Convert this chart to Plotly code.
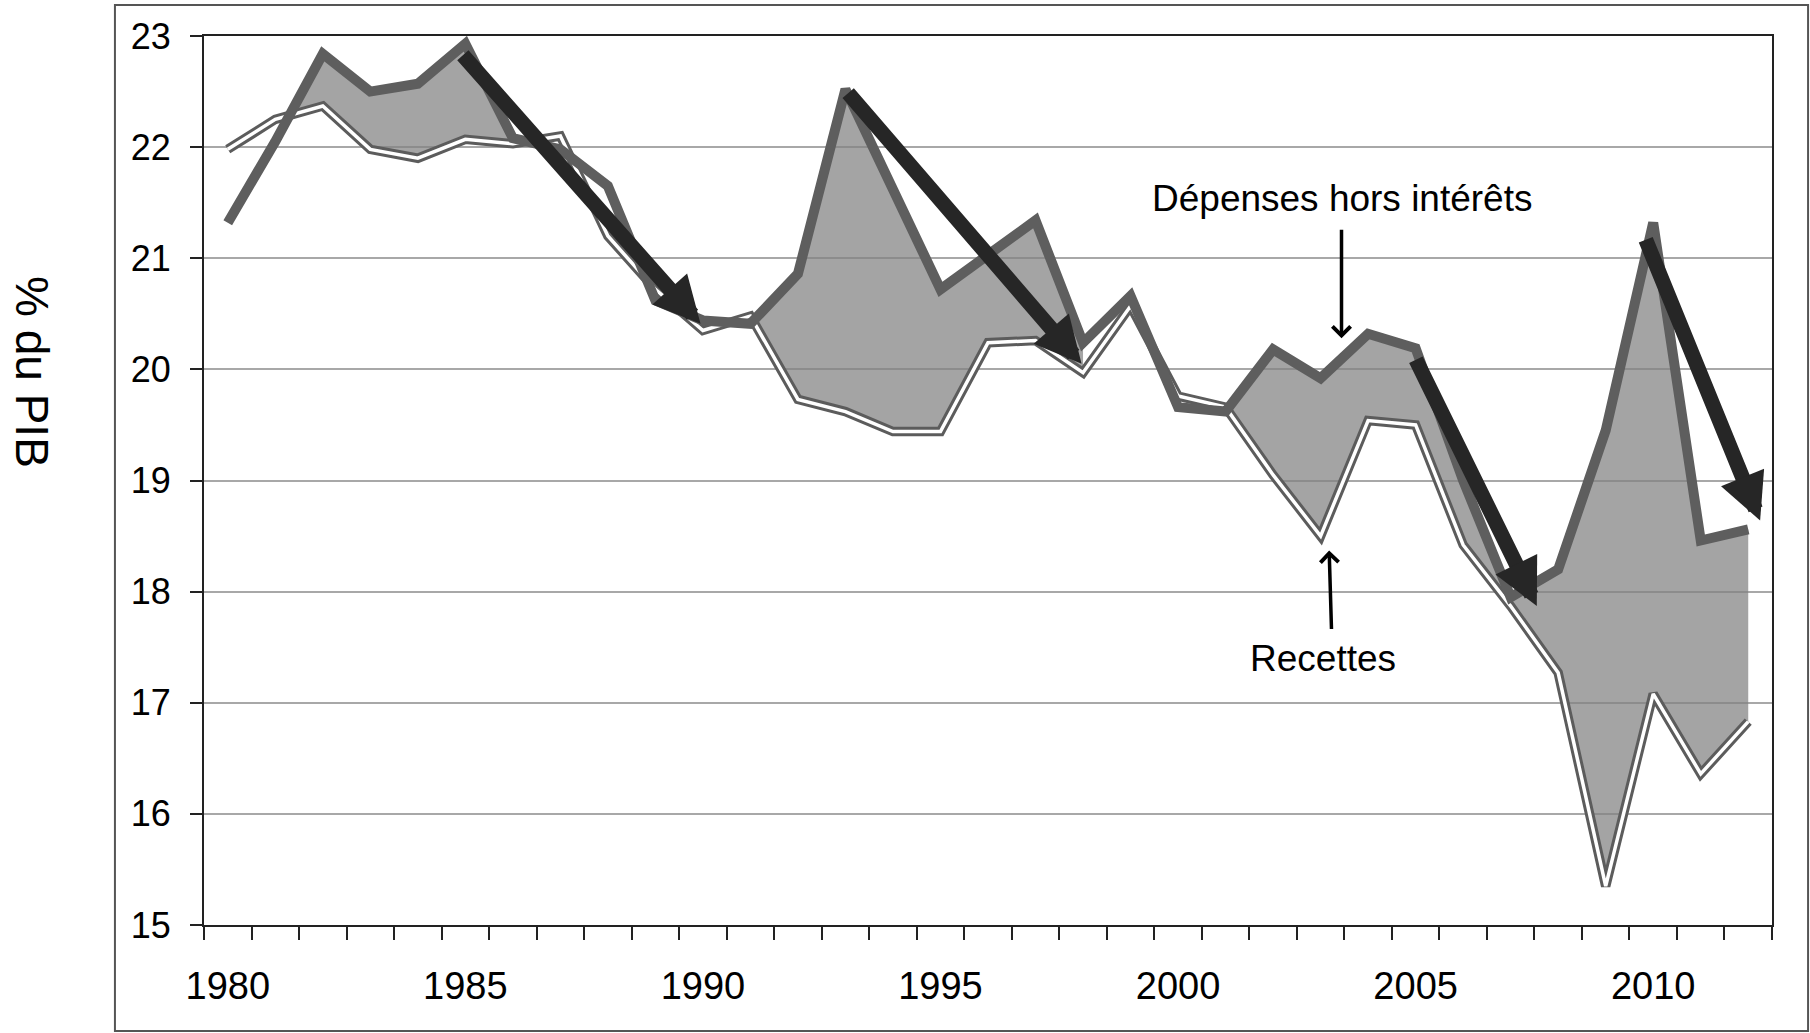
import plotly.graph_objects as go

# ---------------- données (% du PIB) ----------------
annees = list(range(1980, 2013))
depenses = [21.32, 22.05, 22.84, 22.50, 22.57, 22.93, 22.08, 21.98, 21.65, 20.62,
            20.44, 20.41, 20.86, 22.52, 21.62, 20.72, 21.03, 21.34, 20.24, 20.66,
            19.66, 19.62, 20.18, 19.92, 20.32, 20.19, 19.00, 17.95, 18.20, 19.45,
            21.32, 18.46, 18.56]
recettes = [21.98, 22.25, 22.37, 21.98, 21.90, 22.07, 22.03, 22.10, 21.20, 20.72,
            20.35, 20.48, 19.73, 19.62, 19.44, 19.44, 20.24, 20.26, 19.97, 20.57,
            19.76, 19.66, 19.05, 18.50, 19.54, 19.50, 18.42, 17.87, 17.27, 15.35,
            17.08, 16.36, 16.83]
periodes_ombrees = [(1981, 1987), (1991, 1998), (2001, 2012)]
annees_etiquetees = [1980, 1985, 1990, 1995, 2000, 2005, 2010]
y_ticks = [15, 16, 17, 18, 19, 20, 21, 22, 23]
# flèches d'ajustement (année, valeur) : départ -> pointe
fleches = [((1984.92, 22.84), (1989.95, 20.41)),
           ((1993.03, 22.50), (1997.97, 20.05)),
           ((2004.99, 20.10), (2007.55, 17.87)),
           ((2009.83, 21.18), (2012.25, 18.64))]

FONT = "Liberation Sans, Arial, sans-serif"

fig = go.Figure()

# --------- zone grisée entre recettes et dépenses ---------
def bande(a, b):
    xs, lo, hi = [], [], []
    for i, yr in enumerate(annees):
        if yr < a or yr > b:
            continue
        d, r = depenses[i], recettes[i]
        xs.append(yr); lo.append(r); hi.append(max(d, r))
        if yr < b:
            d2, r2 = depenses[i + 1], recettes[i + 1]
            g1, g2 = d - r, d2 - r2
            if g1 * g2 < 0:
                t = g1 / (g1 - g2)
                yc = r + t * (r2 - r)
                xs.append(yr + t); lo.append(yc); hi.append(yc)
    return xs, lo, hi

for a, b in periodes_ombrees:
    xs, lo, hi = bande(a, b)
    fig.add_trace(go.Scatter(x=xs, y=lo, mode="lines", line=dict(width=0),
                             hoverinfo="skip", showlegend=False))
    fig.add_trace(go.Scatter(x=xs, y=hi, mode="lines", line=dict(width=0),
                             fill="tonexty", fillcolor="rgba(130,130,130,0.73)",
                             hoverinfo="skip", showlegend=False))

# --------- courbes ---------
fig.add_trace(go.Scatter(x=annees, y=recettes, mode="lines",
                         line=dict(color="#5c5c5c", width=9.5), showlegend=False))
fig.add_trace(go.Scatter(x=annees, y=recettes, mode="lines",
                         line=dict(color="#ffffff", width=3.5), showlegend=False))
fig.add_trace(go.Scatter(x=annees, y=depenses, mode="lines",
                         line=dict(color="#5e5e5e", width=10), showlegend=False))

# --------- flèches épaisses ---------
for (x0, y0), (x1, y1) in fleches:
    fig.add_annotation(x=x1, y=y1, ax=x0, ay=y0, xref="x", yref="y",
                       axref="x", ayref="y", text="", showarrow=True,
                       arrowhead=2, arrowsize=0.62, arrowwidth=15,
                       arrowcolor="#262626")

# --------- étiquettes ---------
fig.add_annotation(x=2003.44, y=21.54, xref="x", yref="y",
                   text="Dépenses hors intérêts", showarrow=False,
                   xanchor="center", yanchor="middle",
                   font=dict(family=FONT, size=37, color="#000"))
fig.add_annotation(x=2003.44, y=20.28, ax=2003.44, ay=21.27, xref="x", yref="y",
                   axref="x", ayref="y", text="", showarrow=True,
                   arrowhead=4, arrowsize=1, arrowwidth=3.5, arrowcolor="#000")
fig.add_annotation(x=2003.05, y=17.40, xref="x", yref="y",
                   text="Recettes", showarrow=False,
                   xanchor="center", yanchor="middle",
                   font=dict(family=FONT, size=37, color="#000"))
fig.add_annotation(x=2003.18, y=18.37, ax=2003.23, ay=17.65, xref="x", yref="y",
                   axref="x", ayref="y", text="", showarrow=True,
                   arrowhead=4, arrowsize=1, arrowwidth=3.5, arrowcolor="#000")

# titre de l'axe Y (lecture de haut en bas)
fig.add_annotation(x=-0.1097, y=0.622, xref="paper", yref="paper",
                   xanchor="center", yanchor="middle",
                   text="% du PIB", textangle=90, showarrow=False,
                   font=dict(family=FONT, size=46, color="#000"))

# cadre extérieur
fig.add_shape(type="rect", xref="paper", yref="paper",
              x0=-0.0568, x1=1.0230, y0=-0.1192, y1=1.0349,
              line=dict(color="#555555", width=2), fillcolor="rgba(0,0,0,0)")

fig.update_layout(
    width=1810, height=1033,
    margin=dict(l=204, r=38, t=36, b=108),
    paper_bgcolor="white", plot_bgcolor="white",
    showlegend=False,
    font=dict(family=FONT, color="#000"),
)
fig.update_xaxes(
    range=[1979.5, 2012.5], tickvals=annees_etiquetees,
    ticktext=[str(v) for v in annees_etiquetees],
    ticks="", showgrid=False, zeroline=False,
    showline=True, linecolor="#222222", linewidth=2, mirror=True,
    tickfont=dict(family=FONT, size=38, color="#000"),
    ticklabelstandoff=26,
    minor=dict(tickmode="linear", tick0=1979.5, dtick=1, ticks="outside",
               ticklen=13, tickwidth=2, tickcolor="#222222", showgrid=False),
)
fig.update_yaxes(
    range=[15, 23], tickvals=y_ticks, ticks="outside", ticklen=12,
    tickwidth=2, tickcolor="#222222",
    showgrid=True, gridcolor="#a8a8a8", gridwidth=2, zeroline=False,
    showline=True, linecolor="#222222", linewidth=2, mirror=True,
    tickfont=dict(family=FONT, size=36, color="#000"),
    ticklabelstandoff=12,
)

fig.write_html("out.html", config={"displayModeBar": False},
               post_script="document.body.style.margin='0';document.body.style.overflow='hidden';")
